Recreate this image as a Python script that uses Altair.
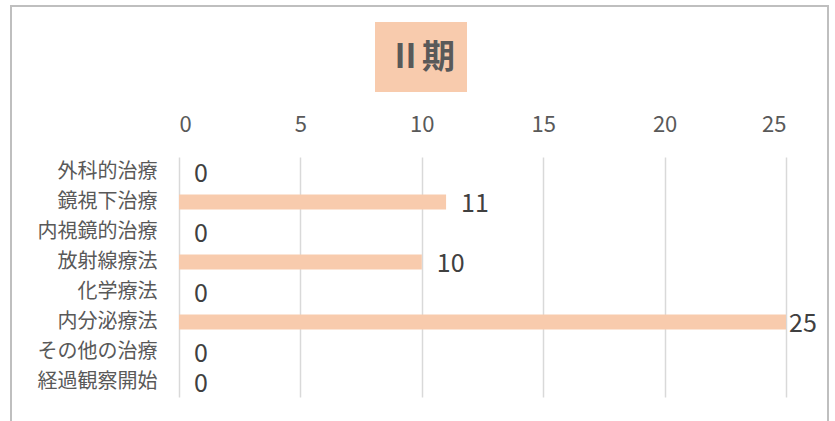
import altair as alt
import pandas as pd

categories = ["外科的治療", "鏡視下治療", "内視鏡的治療", "放射線療法", "化学療法", "内分泌療法", "その他の治療", "経過観察開始"]
values = [0, 11, 0, 10, 0, 25, 0, 0]
ticks = [0, 5, 10, 15, 20, 25]
title_text = "Ⅱ期"

df = pd.DataFrame({"cat": categories, "val": values})
FONT = "Noto Sans CJK JP"
BAR = "#F8CBAD"

x_scale = alt.Scale(domain=[0, 25], nice=False, zero=True)
y_scale = alt.Scale(domain=categories, paddingInner=0, paddingOuter=0)

base = alt.Chart(df)

bars = base.mark_bar(color=BAR, size=15).encode(
    x=alt.X("val:Q", scale=x_scale, axis=alt.Axis(
        orient="top", values=ticks, grid=True, gridColor="#D9D9D9", gridWidth=1.5,
        domain=False, ticks=False, labelPadding=21, labelFontSize=22,
        labelColor="#595959", labelFont=FONT, title=None)),
    y=alt.Y("cat:N", scale=y_scale, sort=categories, axis=alt.Axis(
        domain=False, ticks=False, labelPadding=22, labelFontSize=20,
        labelColor="#595959", labelFont=FONT, title=None)),
)

labels = base.transform_filter("datum.val < 25").mark_text(
    align="left", baseline="middle", dx=15, dy=2, fontSize=25, color="#404040", font=FONT
).encode(x=alt.X("val:Q", scale=x_scale), y=alt.Y("cat:N", scale=y_scale, sort=categories), text="val:Q")

labels_max = base.transform_filter("datum.val >= 25").mark_text(
    align="left", baseline="middle", dx=3, dy=2, fontSize=25, color="#404040", font=FONT
).encode(x=alt.X("val:Q", scale=x_scale), y=alt.Y("cat:N", scale=y_scale, sort=categories), text="val:Q")

frame = alt.Chart(pd.DataFrame({"a": [0]})).mark_rect(
    fill=None, stroke="#BFBFBF", strokeWidth=2, clip=False
).encode(x=alt.value(-168), x2=alt.value(649), y=alt.value(-151), y2=alt.value(300))

title_box = alt.Chart(pd.DataFrame({"a": [0]})).mark_rect(color=BAR, clip=False).encode(
    x=alt.value(196), x2=alt.value(288), y=alt.value(-135), y2=alt.value(-65))

title = alt.Chart(pd.DataFrame({"t": [title_text]})).mark_text(
    fontSize=33, fontWeight="bold", color="#595959", font=FONT, align="center", baseline="middle"
).encode(x=alt.value(243), y=alt.value(-99), text="t:N")

chart = alt.layer(frame, title_box, title, bars, labels, labels_max).properties(
    width=607, height=240,
    autosize=alt.AutoSizeParams(type="none"),
    padding={"left": 179, "top": 157, "right": 49, "bottom": 24},
    background="white",
).configure_view(stroke=None)

chart.save("out.html", embed_options={"renderer": "svg", "actions": False})
